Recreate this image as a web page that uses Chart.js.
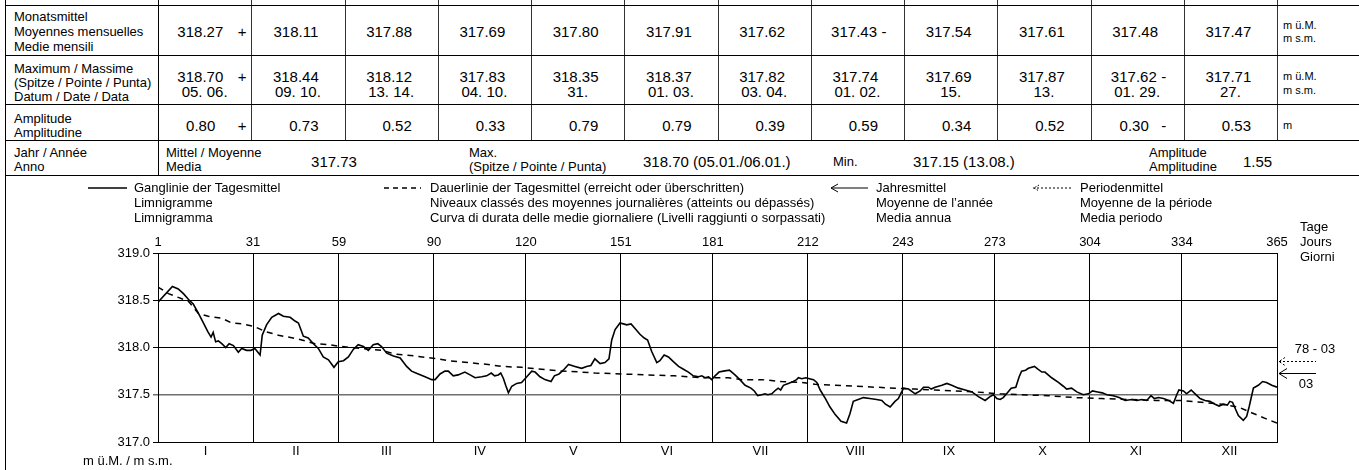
<!DOCTYPE html>
<html>
<head>
<meta charset="utf-8">
<script src="https://cdn.jsdelivr.net/npm/chart.js@4.4.0/dist/chart.umd.min.js"></script>
<style>
    html, body { margin: 0; padding: 0; background: #fff; }
    #page { position: relative; width: 1359px; height: 470px; overflow: hidden;
            font-family: "Liberation Sans", Arial, sans-serif; color: #000; }
    .t { position: absolute; white-space: pre; line-height: 15px; }
    .ln { position: absolute; }
    #chartBox { position: absolute; left: 0; top: 176px; width: 1359px; height: 294px; }
    #marks { position: absolute; left: 0; top: 0; }
</style>
</head>
<body>
<div id="page">
    <div id="chartBox"><canvas id="levelChart"></canvas></div>
</div>
<script>
// --- Monthly table ---
const months = ['I', 'II', 'III', 'IV', 'V', 'VI', 'VII', 'VIII', 'IX', 'X', 'XI', 'XII'];
const monthMean = [318.27, 318.11, 317.88, 317.69, 317.80, 317.91, 317.62, 317.43, 317.54, 317.61, 317.48, 317.47];
const monthMeanFlag = ['+', '', '', '', '', '', '', '-', '', '', '', ''];
const monthMax = [318.70, 318.44, 318.12, 317.83, 318.35, 318.37, 317.82, 317.74, 317.69, 317.87, 317.62, 317.71];
const monthMaxFlag = ['+', '', '', '', '', '', '', '', '', '', '-', ''];
const monthMaxDate = ['05. 06.', '09. 10.', '13. 14.', '04. 10.', '31.', '01. 03.', '03. 04.', '01. 02.', '15.', '13.', '01. 29.', '27.'];
const monthAmp = [0.80, 0.73, 0.52, 0.33, 0.79, 0.79, 0.39, 0.59, 0.34, 0.52, 0.30, 0.53];
const monthAmpFlag = ['+', '', '', '', '', '', '', '', '', '', '-', ''];

// --- Year ---
const yearMean = 317.73;
const yearMax = '318.70 (05.01./06.01.)';
const yearMin = '317.15 (13.08.)';
const yearAmp = 1.55;
const periodMean = 317.86;
const periodLabel = '78 - 03';
const yearLabel = '03';

// --- Axes ---
const monthStartDays = [0, 31, 59, 90, 120, 151, 181, 212, 243, 273, 304, 334, 365];
const dayTickLabels = ['1', '31', '59', '90', '120', '151', '181', '212', '243', '273', '304', '334', '365'];
const levelTicks = [317.0, 317.5, 318.0, 318.5, 319.0];

// --- Ganglinie der Tagesmittel ---
const hydroDays = [
    0, 4.7, 6.6, 8.3, 9.9, 11.5, 13.2, 14.8, 16.2, 17.3, 18.0, 18.8, 19.7, 20.8, 22.1, 23.2, 24.6, 26.2, 27.3, 28.9,
    30.3, 31.6, 33.3, 34.0, 35.4, 37.1, 39.3, 40.9, 43.1, 44.7, 45.8, 46.6, 47.4, 49.0, 50.7, 52.3, 53.9, 55.6, 57.4, 58.8,
    60.5, 62.1, 63.7, 65.3, 67.0, 68.6, 70.2, 71.7, 72.9, 74.6, 76.8, 79.0, 81.1, 82.7, 84.9, 87.1, 89.3, 90.4,
    92.0, 93.6, 94.7, 96.3, 97.9, 100.1, 101.8, 103.4, 105.6, 107.2, 108.7, 109.8, 111.0, 111.8, 112.7, 113.4, 114.3, 115.4,
    117.0, 118.6, 120.3, 121.9, 123.0, 124.6, 126.2, 128.2, 129.3, 130.8, 132.2, 133.9, 136.0, 138.2, 139.8, 141.2, 142.5,
    144.2, 145.8, 147.1, 148.0, 149.1, 150.7, 151.8, 152.9, 154.3, 155.6, 157.2, 158.6, 159.7, 161.0, 162.7, 163.7, 165.1,
    166.5, 168.1, 169.8, 171.4, 173.0, 174.6, 176.3, 177.4, 178.4, 179.6, 180.6, 181.7,
    183.0, 184.4, 186.4, 188.2, 189.8, 191.5, 193.4, 194.5, 195.6, 196.9, 198.0, 198.9, 200.2, 201.5, 202.3, 203.1, 204.0,
    205.6, 207.2, 208.3, 208.9, 210.0, 211.3, 212.5, 213.8, 214.9, 216.0, 217.7, 219.2, 220.9, 222.8, 224.6, 225.7, 226.8,
    228.4, 230.1, 232.2, 234.4, 236.1, 237.3, 238.8, 240.4, 241.5, 242.4, 243.2, 244.8, 247.0, 248.6, 249.7, 251.3, 252.2,
    253.5, 255.7, 257.3, 258.9, 261.1, 263.3, 265.5, 267.6, 269.8, 271.4, 272.5, 273.6, 274.7,
    275.7, 276.8, 278.3, 279.8, 280.9, 281.7, 283.0, 283.9, 285.9, 287.0, 288.3, 289.3, 291.5, 293.7, 295.3, 296.4, 298.0,
    299.7, 301.8, 303.5, 304.8, 306.5, 308.0, 309.5, 311.6, 313.5, 315.5, 317.6, 319.3, 320.9, 322.5, 323.9, 325.0, 326.3,
    328.0, 329.6, 331.2, 332.3, 333.0, 334.5, 335.5, 337.0, 338.3, 339.9, 341.5, 343.1, 344.8, 346.1, 347.5, 348.8, 349.6,
    350.5, 351.3, 352.4, 354.0, 355.1, 355.9, 357.3, 358.9, 360.3, 361.6, 363.3, 365.0
];
const hydroLevels = [
    318.48, 318.645, 318.62, 318.57, 318.51, 318.46, 318.36, 318.26, 318.17, 318.11, 318.16, 318.06, 318.07, 318.04, 318.00, 318.04, 318.02, 317.95, 317.99, 317.97,
    317.97, 317.99, 317.92, 318.13, 318.24, 318.32, 318.36, 318.33, 318.32, 318.28, 318.26, 318.19, 318.12, 318.10, 318.04, 317.99, 317.90, 317.87, 317.79, 317.85,
    317.86, 317.90, 317.98, 318.03, 318.01, 317.97, 318.03, 318.04, 318.01, 317.94, 317.91, 317.89, 317.80, 317.75, 317.72, 317.69, 317.66, 317.66,
    317.72, 317.75, 317.75, 317.70, 317.71, 317.74, 317.71, 317.68, 317.69, 317.70, 317.73, 317.70, 317.71, 317.73, 317.67, 317.60, 317.52, 317.59,
    317.62, 317.63, 317.69, 317.75, 317.74, 317.69, 317.66, 317.64, 317.70, 317.72, 317.76, 317.82, 317.80, 317.78, 317.80, 317.81, 317.88,
    317.83, 317.84, 317.88, 318.08, 318.19, 318.26, 318.25, 318.24, 318.25, 318.20, 318.14, 318.10, 318.08, 317.96, 317.84, 317.86, 317.92,
    317.90, 317.85, 317.80, 317.77, 317.74, 317.70, 317.69, 317.70, 317.68, 317.69, 317.66, 317.70,
    317.74, 317.75, 317.76, 317.71, 317.66, 317.60, 317.57, 317.54, 317.49, 317.50, 317.51, 317.50, 317.51, 317.55, 317.57, 317.55, 317.60,
    317.62, 317.64, 317.66, 317.68, 317.67, 317.68, 317.67, 317.66, 317.63, 317.55, 317.46, 317.37, 317.29, 317.22, 317.20, 317.30, 317.43,
    317.45, 317.47, 317.46, 317.45, 317.44, 317.40, 317.37, 317.43, 317.46, 317.52, 317.57, 317.56, 317.51, 317.54, 317.58, 317.58, 317.56,
    317.58, 317.60, 317.62, 317.60, 317.57, 317.55, 317.53, 317.48, 317.44, 317.48, 317.50, 317.46, 317.45,
    317.47, 317.51, 317.57, 317.58, 317.69, 317.75, 317.76, 317.78, 317.80, 317.77, 317.74, 317.74, 317.68, 317.63, 317.59, 317.56, 317.57,
    317.53, 317.50, 317.51, 317.54, 317.53, 317.52, 317.50, 317.49, 317.47, 317.44, 317.45, 317.44, 317.45, 317.44, 317.49, 317.46, 317.47,
    317.46, 317.44, 317.41, 317.50, 317.55, 317.54, 317.51, 317.55, 317.51, 317.46, 317.44, 317.43, 317.40, 317.38, 317.40, 317.39, 317.43,
    317.42, 317.36, 317.28, 317.23, 317.27, 317.37, 317.57, 317.60, 317.64, 317.63, 317.60, 317.58
];

// --- Dauerlinie der Tagesmittel ---
const durDays = [
    0, 3.4, 6.6, 9.9, 13.2, 16.4, 20.8, 24.0, 27.3, 31.6, 34.9, 39.3, 42.5, 46.9, 51.2, 55.6, 59.9, 66.4, 73.0, 77.3,
    83.8, 91.4, 94.7, 101.2, 107.7, 112.1, 118.6, 125.1, 131.7, 138.2, 142.5, 151.2, 159.9, 168.6, 177.4, 186.0, 190.4,
    196.9, 203.4, 210.0, 214.3, 220.9, 227.4, 233.9, 240.4, 247.0, 253.5, 260.0, 266.5, 274.7, 281.7, 290.4, 299.1,
    307.8, 316.5, 325.2, 333.9, 340.4, 347.0, 352.4, 356.7, 361.1, 365.0
];
const durLevels = [
    318.64, 318.57, 318.53, 318.49, 318.36, 318.33, 318.31, 318.26, 318.25, 318.22, 318.17, 318.13, 318.11, 318.08, 318.04, 318.03, 318.01, 317.99, 317.97, 317.93,
    317.91, 317.88, 317.86, 317.84, 317.82, 317.80, 317.79, 317.77, 317.75, 317.74, 317.73, 317.72, 317.71, 317.70, 317.68, 317.68, 317.66,
    317.66, 317.64, 317.63, 317.61, 317.60, 317.59, 317.58, 317.57, 317.56, 317.55, 317.54, 317.53, 317.51, 317.50, 317.49, 317.47,
    317.46, 317.45, 317.44, 317.44, 317.42, 317.40, 317.37, 317.31, 317.25, 317.20
];

const page = document.getElementById('page');

function txt(x, y, s, size, align) {
    const d = document.createElement('div');
    d.className = 't';
    d.textContent = s;
    d.style.left = x + 'px';
    d.style.top = y + 'px';
    d.style.fontSize = size + 'px';
    const tx = align === 'c' ? '-50%' : (align === 'r' ? '-100%' : '0');
    d.style.transform = 'translate(' + tx + ',-50%)';
    page.appendChild(d);
    return d;
}

function rule(x, y, w, h, color) {
    const d = document.createElement('div');
    d.className = 'ln';
    d.style.left = x + 'px';
    d.style.top = y + 'px';
    d.style.width = w + 'px';
    d.style.height = h + 'px';
    d.style.background = color || '#000';
    page.appendChild(d);
}

// --- Table grid ---
const colW = 93.25;
const colX = i => 158 + colW * i;

rule(5, 0, 1, 470);
rule(158, 0, 1, 175);
for (let i = 1; i <= 12; i++) rule(Math.round(colX(i)), 0, 1, 140, '#333');
[5, 55, 104, 140].forEach(y => rule(5, y, 1354, 1));
rule(5, 175, 1354, 1);

// --- Row labels ---
txt(14, 16, 'Monatsmittel', 13);
txt(14, 31, 'Moyennes mensuelles', 13);
txt(14, 46, 'Medie mensili', 13);
txt(14, 68, 'Maximum / Massime', 13);
txt(14, 82, '(Spitze / Pointe / Punta)', 13);
txt(14, 96, 'Datum / Date / Data', 13);
txt(14, 118, 'Amplitude', 13);
txt(14, 132, 'Amplitudine', 13);
txt(14, 152, 'Jahr / Année', 13);
txt(14, 166, 'Anno', 13);

// units
txt(1283, 25, 'm ü.M.', 11);
txt(1283, 38, 'm s.m.', 11);
txt(1283, 76, 'm ü.M.', 11);
txt(1283, 90, 'm s.m.', 11);
txt(1283, 125, 'm', 11);

function flagged(i, y, value, flag, shift) {
    const right = colX(i + 1);
    if (flag) {
        const fx = right - (flag === '+' ? 9 : 20);
        txt(fx, y, flag, 15, 'c');
        txt(fx - (flag === '+' ? 21 : 9) - shift, y, value, 15, 'r');
    } else {
        txt(colX(i) + colW / 2 + shift, y, value, 15, 'c');
    }
}

for (let i = 0; i < 12; i++) {
    flagged(i, 31, monthMean[i].toFixed(2), monthMeanFlag[i], -2);
    flagged(i, 76, monthMax[i].toFixed(2), monthMaxFlag[i], -2);
    txt(colX(i) + colW / 2, 91, monthMaxDate[i], 15, 'c');
    flagged(i, 125, monthAmp[i].toFixed(2), monthAmpFlag[i], 6);
}

// --- Year row ---
txt(166, 152, 'Mittel / Moyenne', 13);
txt(166, 166, 'Media', 13);
txt(334, 161, yearMean.toFixed(2), 15, 'c');
txt(469, 152, 'Max.', 13);
txt(469, 166, '(Spitze / Pointe / Punta)', 13);
txt(643, 161, yearMax, 15);
txt(833, 161, 'Min.', 13);
txt(913, 161, yearMin, 15);
txt(1149, 152, 'Amplitude', 13);
txt(1149, 166, 'Amplitudine', 13);
txt(1243, 161, yearAmp.toFixed(2), 15);

// --- Legend ---
const legendItems = [
    { x: 134, lines: ['Ganglinie der Tagesmittel', 'Limnigramme', 'Limnigramma'] },
    { x: 430, lines: ['Dauerlinie der Tagesmittel (erreicht oder überschritten)', 'Niveaux classés des moyennes journalières (atteints ou dépassés)', 'Curva di durata delle medie giornaliere (Livelli raggiunti o sorpassati)'] },
    { x: 876, lines: ['Jahresmittel', 'Moyenne de l\u2019année', 'Media annua'] },
    { x: 1080, lines: ['Periodenmittel', 'Moyenne de la période', 'Media periodo'] }
];
legendItems.forEach(it => it.lines.forEach((s, k) => txt(it.x, 187 + k * 15, s, 13)));

const svgNS = 'http://www.w3.org/2000/svg';
const marks = document.createElementNS(svgNS, 'svg');
marks.setAttribute('id', 'marks');
marks.setAttribute('width', 1359);
marks.setAttribute('height', 470);
marks.innerHTML =
    '<line x1="88" y1="188" x2="127" y2="188" stroke="#000" stroke-width="1.3"/>' +
    '<line x1="384" y1="188" x2="421" y2="188" stroke="#000" stroke-width="1.3" stroke-dasharray="5,4"/>' +
    '<line x1="831" y1="188" x2="868" y2="188" stroke="#000" stroke-width="1"/>' +
    '<polyline points="838,184 831,188 838,192" fill="none" stroke="#000" stroke-width="1"/>' +
    '<line x1="1033" y1="188" x2="1071" y2="188" stroke="#000" stroke-width="1" stroke-dasharray="2,2"/>' +
    '<polyline points="1039,185 1034,188 1039,191" fill="none" stroke="#000" stroke-width="1" stroke-dasharray="1.5,1.5"/>';
page.appendChild(marks);

// right side & bottom texts
txt(1300, 226, 'Tage', 13);
txt(1300, 241, 'Jours', 13);
txt(1300, 256, 'Giorni', 13);
txt(83, 460, 'm ü.M. / m s.m.', 13);

// --- Chart ---
Chart.defaults.font.family = '"Liberation Sans", Arial, sans-serif';
Chart.defaults.font.size = 13;
Chart.defaults.color = '#000';

const monthMidDays = months.map((m, i) => (monthStartDays[i] + monthStartDays[i + 1]) / 2);

const meanArrows = {
    id: 'meanArrows',
    afterDraw(chart) {
        const { ctx, chartArea, scales } = chart;
        const x0 = chartArea.right + 2;
        const x1 = chartArea.right + 39;
        const yP = Math.round(scales.y.getPixelForValue(periodMean)) + 0.5;
        const yY = Math.round(scales.y.getPixelForValue(yearMean)) + 0.5;
        ctx.save();
        ctx.strokeStyle = '#000';
        ctx.lineWidth = 1;
        // period mean, dotted
        ctx.setLineDash([2, 2]);
        ctx.beginPath();
        ctx.moveTo(x0, yP); ctx.lineTo(x1, yP);
        ctx.moveTo(x0 + 6, yP - 4); ctx.lineTo(x0, yP); ctx.lineTo(x0 + 6, yP + 4);
        ctx.stroke();
        // year mean, solid
        ctx.setLineDash([]);
        ctx.beginPath();
        ctx.moveTo(x0, yY); ctx.lineTo(x1, yY);
        ctx.moveTo(x0 + 8, yY - 5); ctx.lineTo(x0, yY); ctx.lineTo(x0 + 8, yY + 5);
        ctx.stroke();
        ctx.font = '13px "Liberation Sans", Arial, sans-serif';
        ctx.fillStyle = '#000';
        ctx.textAlign = 'center';
        ctx.textBaseline = 'middle';
        ctx.fillText(periodLabel, chartArea.right + 38, yP - 12);
        ctx.fillText(yearLabel, chartArea.right + 29, yY + 11);
        ctx.restore();
    }
};

new Chart(document.getElementById('levelChart'), {
    type: 'line',
    data: {
        datasets: [{
            label: 'Ganglinie der Tagesmittel',
            data: hydroDays.map((d, i) => ({ x: d, y: hydroLevels[i] })),
            borderColor: '#000',
            borderWidth: 1.6,
            pointRadius: 0,
            tension: 0
        }, {
            label: 'Dauerlinie der Tagesmittel',
            data: durDays.map((d, i) => ({ x: d, y: durLevels[i] })),
            borderColor: '#000',
            borderWidth: 1.5,
            borderDash: [6, 5],
            pointRadius: 0,
            tension: 0
        }]
    },
    options: {
        responsive: true,
        maintainAspectRatio: false,
        animation: false,
        layout: { padding: { left: 108, right: 82, top: 55, bottom: 8 } },
        plugins: { legend: { display: false }, tooltip: { enabled: false } },
        scales: {
            x: {
                type: 'linear', position: 'top', min: 0, max: 365,
                afterBuildTicks: s => { s.ticks = monthStartDays.map(v => ({ value: v })); },
                afterFit: s => { s.height = 22; },
                ticks: { padding: 3, autoSkip: false, maxRotation: 0, callback: (v, i) => dayTickLabels[i] },
                grid: { color: '#000', lineWidth: 1, drawTicks: false },
                border: { color: '#000', width: 1 }
            },
            months: {
                type: 'linear', position: 'bottom', min: 0, max: 365,
                afterBuildTicks: s => { s.ticks = monthMidDays.map(v => ({ value: v })); },
                afterFit: s => { s.height = 20; },
                ticks: { padding: 2, autoSkip: false, maxRotation: 0, callback: (v, i) => months[i] },
                grid: { display: false, drawTicks: false },
                border: { color: '#000', width: 1 }
            },
            y: {
                type: 'linear', position: 'left', min: 317, max: 319,
                afterBuildTicks: s => { s.ticks = levelTicks.map(v => ({ value: v })); },
                afterFit: s => { s.width = 50; },
                ticks: { padding: 3, callback: v => v.toFixed(1) },
                grid: {
                    color: c => (c.tick && c.tick.value === 317.5) ? '#707070' : '#000',
                    lineWidth: c => (c.tick && c.tick.value === 317.5) ? 1.5 : 1,
                    tickLength: 5
                },
                border: { color: '#000', width: 1 }
            }
        }
    },
    plugins: [meanArrows]
});
</script>
</body>
</html>
